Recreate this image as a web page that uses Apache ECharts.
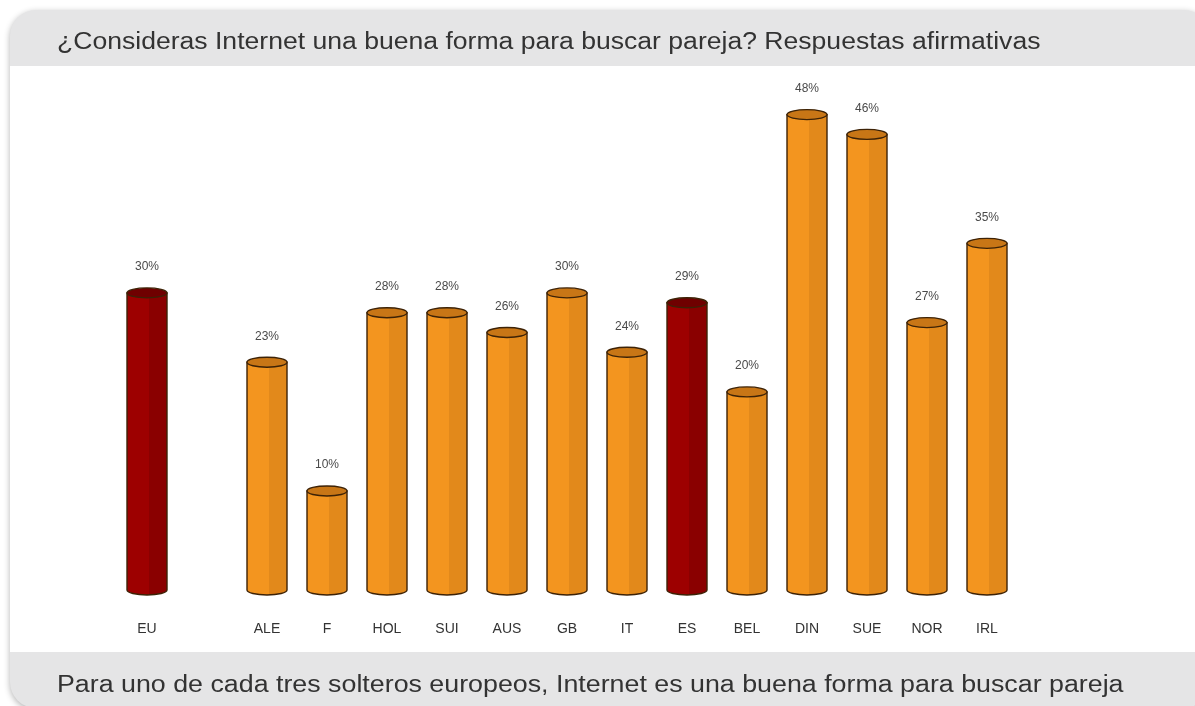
<!DOCTYPE html>
<html>
<head>
<meta charset="utf-8">
<script src="https://cdn.jsdelivr.net/npm/echarts@6/dist/echarts.min.js"></script>
<style>
  html, body { margin: 0; padding: 0; background: #fff; }
  #main { width: 1195px; height: 706px; }
</style>
</head>
<body>
<div id="main"></div>
<script>
// datos
var paises = ['EU', '', 'ALE', 'F', 'HOL', 'SUI', 'AUS', 'GB', 'IT', 'ES', 'BEL', 'DIN', 'SUE', 'NOR', 'IRL'];
var valores = [30, null, 23, 10, 28, 28, 26, 30, 24, 29, 20, 48, 46, 27, 35];
var destacados = ['EU', 'ES'];

var titulo = '¿Consideras Internet una buena forma para buscar pareja? Respuestas afirmativas';
var pie = 'Para uno de cada tres solteros europeos, Internet es una buena forma para buscar pareja';

var chart = echarts.init(document.getElementById('main'));

function cilindro(params, api) {
    var v = api.value(1);
    if (v == null || isNaN(v)) return;
    var top = api.coord([api.value(0), v]);
    var base = api.coord([api.value(0), 0]);
    var w = 40, rx = w / 2, ry = 5;
    var x0 = top[0] - rx, x1 = top[0] + rx;
    var rojo = destacados.indexOf(paises[params.dataIndex]) >= 0;
    var c1 = rojo ? '#9d0000' : '#f3951f';
    var c2 = rojo ? '#8a0000' : '#e2891b';
    var cap = rojo ? '#6f0000' : '#c87616';
    var body = 'M' + x0 + ' ' + top[1] + ' L' + x0 + ' ' + base[1] +
        ' A' + rx + ' ' + ry + ' 0 0 0 ' + x1 + ' ' + base[1] +
        ' L' + x1 + ' ' + top[1] + ' Z';
    return {
        type: 'group',
        children: [{
            type: 'path',
            shape: {pathData: body},
            style: {
                fill: new echarts.graphic.LinearGradient(0, 0, 1, 0, [
                    {offset: 0, color: c1}, {offset: 0.55, color: c1},
                    {offset: 0.56, color: c2}, {offset: 1, color: c2}
                ]),
                stroke: '#3d2206', lineWidth: 1.4
            }
        }, {
            type: 'ellipse',
            shape: {cx: top[0], cy: top[1], rx: rx, ry: ry},
            style: {fill: cap, stroke: '#3d2206', lineWidth: 1.4}
        }, {
            type: 'text',
            style: {
                text: v + '%', x: top[0], y: top[1] - 26,
                align: 'center', verticalAlign: 'middle',
                fill: '#4a4a4a', font: '12px "Liberation Sans", Arial, sans-serif'
            }
        }]
    };
}

var option = {
    backgroundColor: '#fff',
    animation: false,
    graphic: [{
        type: 'rect',
        shape: {x: 10, y: 10, width: 1200, height: 698, r: 26},
        style: {fill: '#e5e5e6', shadowBlur: 6, shadowColor: 'rgba(0,0,0,0.3)', shadowOffsetY: 2},
        z: -10
    }, {
        type: 'rect',
        shape: {x: 10, y: 66, width: 1190, height: 586},
        style: {fill: '#fff'},
        z: -9
    }, {
        type: 'text',
        x: 57, y: 43, scaleX: 1.155,
        style: {text: titulo, fill: '#333', verticalAlign: 'middle', font: '23px "Liberation Sans", Arial, sans-serif'},
        z: 5
    }, {
        type: 'text',
        x: 57, y: 686, scaleX: 1.165,
        style: {text: pie, fill: '#333', verticalAlign: 'middle', font: '23px "Liberation Sans", Arial, sans-serif'},
        z: 5
    }],
    grid: {left: 117, right: 1195 - 1017, top: 75, bottom: 116},
    xAxis: {
        type: 'category',
        data: paises,
        axisLine: {show: false},
        axisTick: {show: false},
        axisLabel: {
            margin: 32, color: '#333', fontSize: 14,
            fontFamily: '"Liberation Sans", Arial, sans-serif'
        }
    },
    yAxis: {
        type: 'value', min: 0, max: 52, show: false,
        splitLine: {show: false}
    },
    series: [{
        type: 'custom',
        renderItem: cilindro,
        data: valores.map(function (v, i) { return [i, v]; })
    }]
};
chart.setOption(option);
</script>
</body>
</html>
